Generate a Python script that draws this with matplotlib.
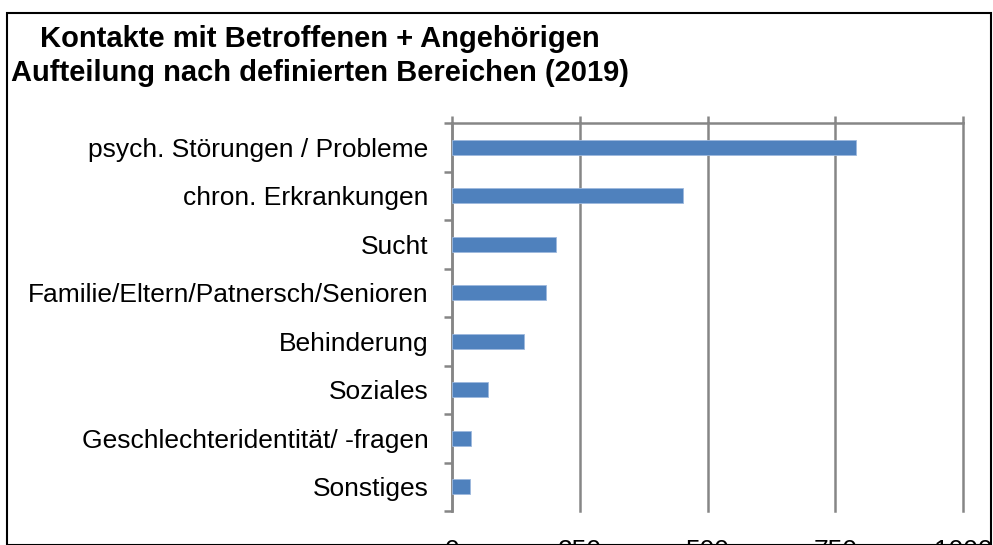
import matplotlib.pyplot as plt
from matplotlib.patches import Rectangle

categories = ['psych. Störungen / Probleme', 'chron. Erkrankungen', 'Sucht',
              'Familie/Eltern/Patnersch/Senioren', 'Behinderung', 'Soziales',
              'Geschlechteridentität/ -fragen', 'Sonstiges']
values = [791, 453, 203, 184, 141, 70, 37, 35]
xticks = [0, 250, 500, 750, 1000]

plt.rcParams['font.family'] = ['Liberation Sans', 'DejaVu Sans']
grey = '#868686'

fig = plt.figure(figsize=(9.93, 5.45), dpi=100)
ax = fig.add_axes([452 / 993, 34 / 545, 511 / 993, 388 / 545])

pos = list(range(len(categories)))
ax.barh(pos, values, height=0.3, color='#4F81BD', edgecolor='#9DB9DE', linewidth=0.6, zorder=3)

ax.set_xlim(0, 1000)
ax.set_ylim(len(categories) - 0.5, -0.5)
ax.set_xticks(xticks)
ax.set_xticklabels([str(t) for t in xticks])
ax.set_yticks(pos)
ax.set_yticklabels(categories)
ax.set_yticks([p - 0.5 for p in pos] + [len(pos) - 0.5], minor=True)

ax.grid(axis='x', color=grey, linewidth=1.8, zorder=0)
for gl in ax.get_xgridlines():
    gl.set_clip_on(False)
ax.tick_params(axis='x', top=True, bottom=False, labeltop=False, labelbottom=True,
               direction='out', length=5, width=1.8, color=grey, labelsize=19, pad=15)
ax.tick_params(axis='y', which='major', length=0, labelsize=19, pad=17)
ax.tick_params(axis='y', which='minor', length=6, width=1.8, color=grey)

for s in ['bottom', 'right']:
    ax.spines[s].set_visible(False)
for s in ['top', 'left']:
    ax.spines[s].set_color(grey)
    ax.spines[s].set_linewidth(1.8)

fig.text(0.322, 1 - 56 / 545, 'Kontakte mit Betroffenen + Angehörigen\nAufteilung nach definierten Bereichen (2019)',
         ha='center', va='center', fontsize=21, fontweight='bold', linespacing=1.25)

fig.patches.append(Rectangle((7 / 993, 0), 984 / 993, 1 - 13 / 545, transform=fig.transFigure,
                             fill=False, edgecolor='black', linewidth=1.5))

fig.savefig('out.png', dpi=100)
